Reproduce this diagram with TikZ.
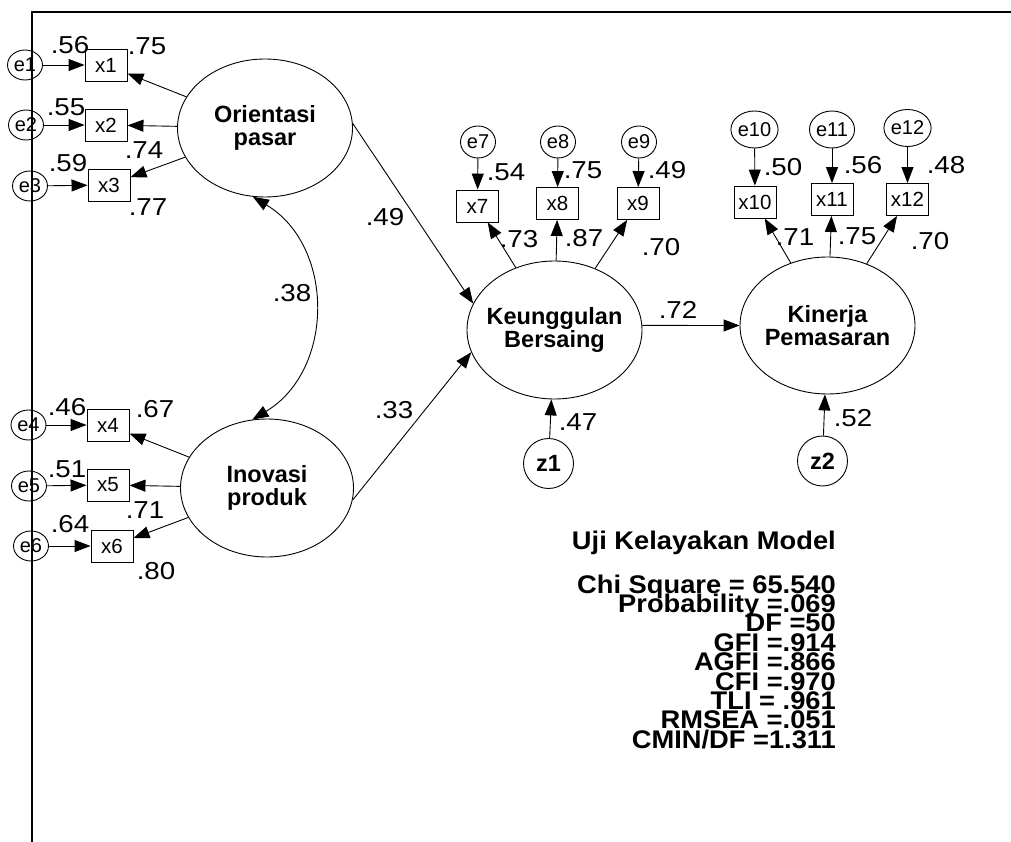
\documentclass[tikz,border=0pt]{standalone}
\usepackage{fontspec}
\setmainfont{Liberation Sans}
\newfontfamily\lblfam{Liberation Sans}[FakeStretch=1.13]
\newfontfamily\fitfam{Liberation Sans}[FakeStretch=1.07]
\usetikzlibrary{arrows.meta,shapes.geometric,backgrounds}
\newcommand\fitfont{\fitfam\bfseries\fontsize{25.5}{19.4}\selectfont\lineskiplimit=-50pt\relax}

\begin{document}
\begin{tikzpicture}[x=1pt,y=-1pt,
  lat/.style={draw,ellipse,line width=0.9pt,minimum width=175pt,minimum height=138pt,inner sep=-25pt,align=center,font=\bfseries\fontsize{23.5}{23}\selectfont},
  box/.style={draw,rectangle,line width=0.9pt,minimum width=42pt,minimum height=32pt,inner sep=0pt,font=\fontsize{20.5}{22}\selectfont},
  err/.style={draw,ellipse,line width=0.9pt,minimum width=35pt,minimum height=30pt,inner sep=0pt,font=\fontsize{20}{22}\selectfont},
  res/.style={draw,circle,line width=0.9pt,minimum size=50pt,inner sep=0pt,font=\bfseries\fontsize{23.5}{25}\selectfont},
  lbl/.style={inner sep=0pt,font=\lblfam\fontsize{24.5}{26}\selectfont},
  arr/.style={->,line width=0.9pt},
  >={Triangle[length=16pt,width=12pt]}]
\useasboundingbox (0,0) rectangle (1011,842);
% latent variables
\node[lat] (ORIENT) at (265,128) {Orientasi\\pasar};
\node[lat, minimum width=173pt] (INOV) at (267,488) {Inovasi\\produk};
\node[lat] (KEUNG) at (554.5,330) {Keunggulan\\Bersaing};
\node[lat, minimum height=137pt] (KINER) at (827.5,325.5) {Kinerja\\Pemasaran};
% indicators
\node[box] (X1) at (106,65) {x1};
\node[box] (X2) at (106,125) {x2};
\node[box] (X3) at (109,185) {x3};
\node[box] (X4) at (108,425) {x4};
\node[box] (X5) at (108,485) {x5};
\node[box] (X6) at (112,546) {x6};
\node[box] (X7) at (477.5,206) {x7};
\node[box] (X8) at (557.5,203.5) {x8};
\node[box] (X9) at (638,203.5) {x9};
\node[box] (X10) at (755,202) {x10};
\node[box] (X11) at (832,199.5) {x11};
\node[box] (X12) at (907.5,199.5) {x12};
% errors
\node[err] (E1) at (25,65) {e1};
\node[err] (E2) at (26,125) {e2};
\node[err] (E3) at (30,186) {e3};
\node[err] (E4) at (28.5,425) {e4};
\node[err] (E5) at (29,486) {e5};
\node[err] (E6) at (31,546) {e6};
\node[err, minimum height=32pt] (E7) at (478,142) {e7};
\node[err, minimum height=32pt] (E8) at (558,142) {e8};
\node[err, minimum height=32pt] (E9) at (639,142) {e9};
\node[err, minimum width=37pt, minimum height=37pt] (E10) at (754.5,129.5) {e10};
\node[err, minimum width=37pt, minimum height=37pt] (E11) at (832,129.5) {e11};
\node[err, minimum width=37pt, minimum height=37pt] (E12) at (907.5,128) {e12};
\node[res] (Z1) at (548.5,463.5) {z1};
\node[res] (Z2) at (822.5,461) {z2};
\begin{scope}[on background layer]
\draw[arr] (E1) -- (X1);
\draw[arr] (E2) -- (X2);
\draw[arr] (E3) -- (X3);
\draw[arr] (E4) -- (X4);
\draw[arr] (E5) -- (X5);
\draw[arr] (E6) -- (X6);
\draw[arr] (E7) -- (X7);
\draw[arr] (E8) -- (X8);
\draw[arr] (E9) -- (X9);
\draw[arr] (E10) -- (X10);
\draw[arr] (E11) -- (X11);
\draw[arr] (E12) -- (X12);
\draw[arr] (ORIENT) -- (X1);
\draw[arr] (ORIENT) -- (X2);
\draw[arr] (ORIENT) -- (X3);
\draw[arr] (INOV) -- (X4);
\draw[arr] (INOV) -- (X5);
\draw[arr] (INOV) -- (X6);
\draw[arr] (KEUNG) -- (X7);
\draw[arr] (KEUNG) -- (X8);
\draw[arr] (KEUNG) -- (X9);
\draw[arr] (KINER) -- (X10);
\draw[arr] (KINER) -- (X11);
\draw[arr] (KINER) -- (X12);
\draw[arr] (ORIENT.3) -- (KEUNG.162);
\draw[arr] (INOV.-8) -- (KEUNG.195);
\draw[arr] (KEUNG.3) -- (KINER.west);
\draw[arr] (Z1) -- (KEUNG);
\draw[arr] (Z2) -- (KINER);
\draw[<->, line width=0.9pt] (ORIENT.260) to[out=-31, in=31, looseness=1.1] (INOV.102);
\end{scope}
% estimates
\node[lbl] (L1) at (70,45) {.56};
\node[lbl] (L2) at (147,46) {.75};
\node[lbl] (L3) at (66,107) {.55};
\node[lbl] (L4) at (144,150) {.74};
\node[lbl] (L5) at (68,163) {.59};
\node[lbl] (L6) at (148,207) {.77};
\node[lbl] (L7) at (67,407) {.46};
\node[lbl] (L8) at (155,409) {.67};
\node[lbl] (L9) at (67,469) {.51};
\node[lbl] (L10) at (145,510) {.71};
\node[lbl] (L11) at (70,524) {.64};
\node[lbl] (L12) at (156,571) {.80};
\node[lbl] (L13) at (506,172) {.54};
\node[lbl] (L14) at (583,170) {.75};
\node[lbl] (L15) at (667,170) {.49};
\node[lbl] (L16) at (519,239) {.73};
\node[lbl] (L17) at (584,238) {.87};
\node[lbl] (L18) at (661,247) {.70};
\node[lbl] (L19) at (783,167) {.50};
\node[lbl] (L20) at (863,165) {.56};
\node[lbl] (L21) at (946,165) {.48};
\node[lbl] (L22) at (795,237) {.71};
\node[lbl] (L23) at (857,236) {.75};
\node[lbl] (L24) at (930,241) {.70};
\node[lbl] (L25) at (578,422) {.47};
\node[lbl] (L26) at (853,418) {.52};
\node[lbl] (L27) at (678,310) {.72};
\node[lbl] (L28) at (385,217) {.49};
\node[lbl] (L29) at (394,410) {.33};
\node[lbl] (L30) at (292,293) {.38};
% model fit
\node[inner sep=0pt, anchor=north east, align=right, font=\fitfont] (FIT) at (836,531)
  {Uji Kelayakan Model\\[24pt]Chi Square = 65.540\\Probability =.069\\DF =50\\GFI =.914\\AGFI =.866\\CFI =.970\\TLI = .961\\RMSEA =.051\\CMIN/DF =1.311};
% frame
\draw[line width=2pt] (32,842) -- (32,12) -- (1011,12);
\end{tikzpicture}
\end{document}
